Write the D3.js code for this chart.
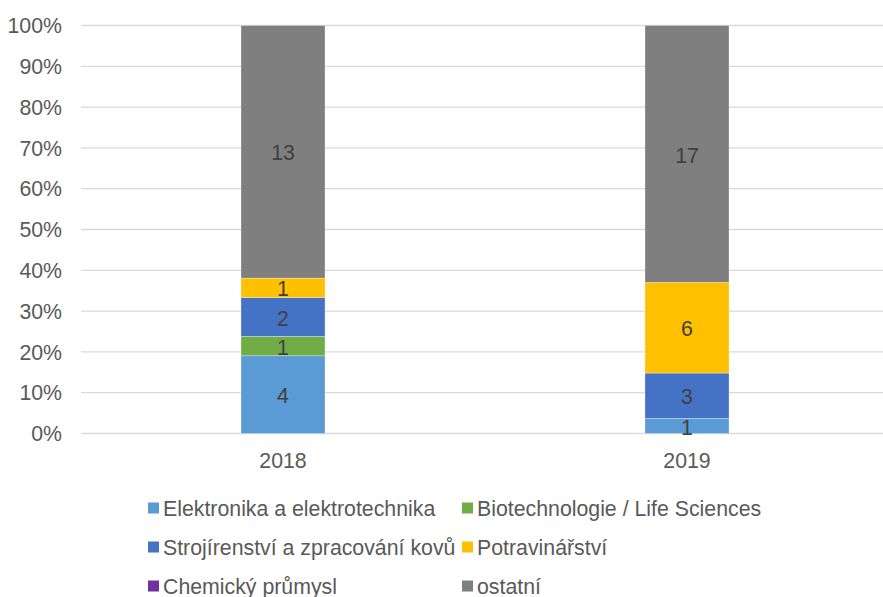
<!DOCTYPE html>
<html><head><meta charset="utf-8">
<script src="https://cdn.jsdelivr.net/npm/d3@7"></script>
<style>body{margin:0;background:#fff}text{font-family:"Liberation Sans",Arial,sans-serif}</style>
</head><body><svg id="c" width="883" height="597"></svg>
<script>
const years = ["2018", "2019"];
const seriesNames = ["Elektronika a elektrotechnika", "Biotechnologie / Life Sciences", "Strojírenství a zpracování kovů", "Potravinářství", "Chemický průmysl", "ostatní"];
const elektronika = [4, 1];
const biotech = [1, 0];
const strojirenstvi = [2, 3];
const potravinarstvi = [1, 6];
const chemicky = [0, 0];
const ostatni = [13, 17];
const colors = ["#5B9BD5", "#70AD47", "#4472C4", "#FFC000", "#7030A0", "#7F7F7F"];
const yTicks = [0, 0.1, 0.2, 0.3, 0.4, 0.5, 0.6, 0.7, 0.8, 0.9, 1];

const values = [elektronika, biotech, strojirenstvi, potravinarstvi, chemicky, ostatni];
const svg = d3.select("#c");
const plotL = 81, plotR = 889, plotT = 25.5, plotB = 433.5;
const x = d3.scaleBand().domain(years).range([plotL, plotR]).paddingInner(0.792).paddingOuter(0.396);
const y = d3.scaleLinear().domain([0, 1]).range([plotB, plotT]);
const txt = "#595959";
const fs = "21.3px";

// gridlines
svg.append("g").selectAll("line").data(yTicks).join("line")
  .attr("x1", plotL).attr("x2", 883).attr("y1", d => y(d)).attr("y2", d => y(d))
  .attr("stroke", "#d9d9d9").attr("stroke-width", 1.3);

// y labels
svg.append("g").selectAll("text").data(yTicks).join("text")
  .attr("x", 62).attr("y", d => y(d)).attr("dy", "0.36em").attr("text-anchor", "end")
  .attr("fill", txt).style("font-size", fs).text(d => d3.format(".0%")(d));

// stacked data
const table = years.map((yr, i) => {
  const o = {year: yr};
  seriesNames.forEach((s, j) => o[s] = values[j][i]);
  return o;
});
const stack = d3.stack().keys(seriesNames).offset(d3.stackOffsetExpand);
const stacked = stack(table);

const g = svg.append("g");
stacked.forEach((layer, j) => {
  layer.forEach((seg, i) => {
    if (seg[1] - seg[0] <= 0) return;
    g.append("rect").attr("x", x(years[i])).attr("width", x.bandwidth())
      .attr("y", y(seg[1])).attr("height", y(seg[0]) - y(seg[1]))
      .attr("fill", colors[j]).attr("stroke", "#ffffff").attr("stroke-width", 0.6).attr("stroke-opacity", 0.5);
  });
});
stacked.forEach((layer, j) => {
  layer.forEach((seg, i) => {
    const v = values[j][i];
    if (v <= 0) return;
    g.append("text").attr("x", x(years[i]) + x.bandwidth() / 2)
      .attr("y", (y(seg[0]) + y(seg[1])) / 2 + 1).attr("dy", "0.36em")
      .attr("text-anchor", "middle").attr("fill", "#404040").style("font-size", fs).text(v);
  });
});

// x labels
svg.append("g").selectAll("text").data(years).join("text")
  .attr("x", d => x(d) + x.bandwidth() / 2).attr("y", 460).attr("dy", "0.36em")
  .attr("text-anchor", "middle").attr("fill", txt).style("font-size", fs).text(d => d);

// legend
const legX = [148, 462], legY = [508, 547, 586];
const leg = svg.append("g");
seriesNames.forEach((s, j) => {
  const cx = legX[j % 2], cy = legY[Math.floor(j / 2)];
  leg.append("rect").attr("x", cx).attr("y", cy - 5.5).attr("width", 11).attr("height", 11).attr("fill", colors[j]);
  leg.append("text").attr("x", cx + 15).attr("y", cy).attr("dy", "0.36em")
    .attr("fill", txt).style("font-size", fs).text(s);
});
</script></body></html>
